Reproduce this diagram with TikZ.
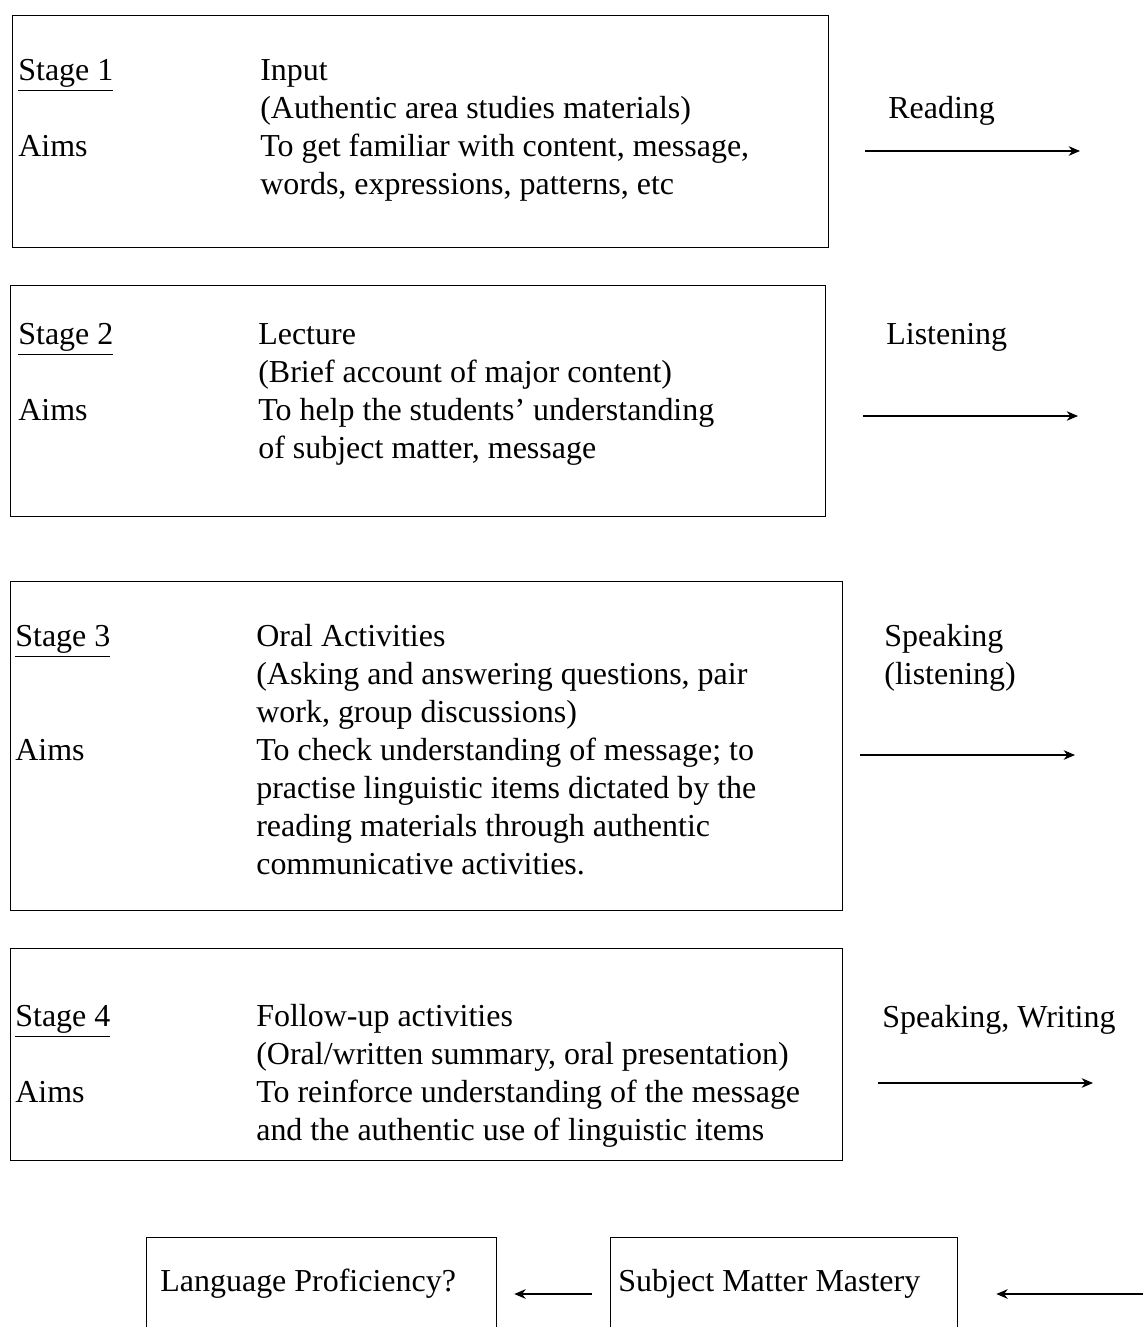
\documentclass[tikz,border=0pt]{standalone}
\usepackage{fontspec}
\setmainfont{Liberation Serif}
\usetikzlibrary{arrows.meta,positioning}

\begin{document}
\begin{tikzpicture}[x=0.02cm,y=-0.02cm]
	\tikzstyle{every node}+=[inner sep=0pt, font=\fontsize{18.2}{21.6}\selectfont]
	\tikzstyle{stagebox}=[draw, line width=0.8pt, rectangle, anchor=north west]
	\tikzstyle{flow}=[line width=0.6pt, -{Stealth[length=6.5pt,width=5.5pt]}]
	\clip (0,0) rectangle (1143,1327);
	\node[stagebox, minimum width=16.32cm, minimum height=4.64cm] (box1) at (12,15) {};
	\node[anchor=north west] (stage1) at (18,54) {\begin{tabular}{@{}p{4.84cm}@{}l@{}}
		\underline{Stage 1} & Input\\
		& (Authentic area studies materials)\\
		Aims & To get familiar with content, message,\\
		& words, expressions, patterns, etc
	\end{tabular}};
	\node[stagebox, minimum width=16.30cm, minimum height=4.62cm] (box2) at (10,285) {};
	\node[anchor=north west] (stage2) at (18,318) {\begin{tabular}{@{}p{4.80cm}@{}l@{}}
		\underline{Stage 2} & Lecture\\
		& (Brief account of major content)\\
		Aims & To help the students' understanding\\
		& of subject matter, message
	\end{tabular}};
	\node[stagebox, minimum width=16.64cm, minimum height=6.58cm] (box3) at (10,581) {};
	\node[anchor=north west] (stage3) at (15,620) {\begin{tabular}{@{}p{4.82cm}@{}l@{}}
		\underline{Stage 3} & Oral Activities\\
		& (Asking and answering questions, pair\\
		& work, group discussions)\\
		Aims & To check understanding of message; to\\
		& practise linguistic items dictated by the\\
		& reading materials through authentic\\
		& communicative activities.
	\end{tabular}};
	\node[stagebox, minimum width=16.64cm, minimum height=4.24cm] (box4) at (10,948) {};
	\node[anchor=north west] (stage4) at (15,1000) {\begin{tabular}{@{}p{4.82cm}@{}l@{}}
		\underline{Stage 4} & Follow-up activities\\
		& (Oral/written summary, oral presentation)\\
		Aims & To reinforce understanding of the message\\
		& and the authentic use of linguistic items
	\end{tabular}};
	\node[anchor=base west] (reading) at (888,119) {Reading};
	\node[anchor=base west] (listening) at (886,345) {Listening};
	\node[anchor=north west] (speaking) at (884,620) {\begin{tabular}{@{}l@{}}Speaking\\(listening)\end{tabular}};
	\node[anchor=base west] (writing) at (882,1027) {Speaking, Writing};
	\coordinate (r1a) at (865,151);
	\coordinate (r1b) at (1080,151);
	\coordinate (r2a) at (863,416);
	\coordinate (r2b) at (1078,416);
	\coordinate (r3a) at (860,755);
	\coordinate (r3b) at (1075,755);
	\coordinate (r4a) at (878,1083);
	\coordinate (r4b) at (1093,1083);
	\draw[flow] (r1a) -- (r1b);
	\draw[flow] (r2a) -- (r2b);
	\draw[flow] (r3a) -- (r3b);
	\draw[flow] (r4a) -- (r4b);
	\node[stagebox, minimum width=7.00cm, minimum height=4cm] (box5) at (146,1237) {};
	\node[anchor=base west] (proficiency) at (160,1291) {Language Proficiency?};
	\node[stagebox, minimum width=6.94cm, minimum height=4cm] (box6) at (610,1237) {};
	\node[anchor=base west] (mastery) at (618,1291) {Subject Matter Mastery};
	\coordinate (level) at (0,1294);
	\coordinate (edge) at (1143,1294);
	\draw[flow, shorten <=0.36cm, shorten >=0.34cm] (box6.west |- level) -- (box5.east |- level);
	\draw[flow, shorten >=0.76cm] (edge) -- (box6.east |- level);
\end{tikzpicture}
\end{document}
